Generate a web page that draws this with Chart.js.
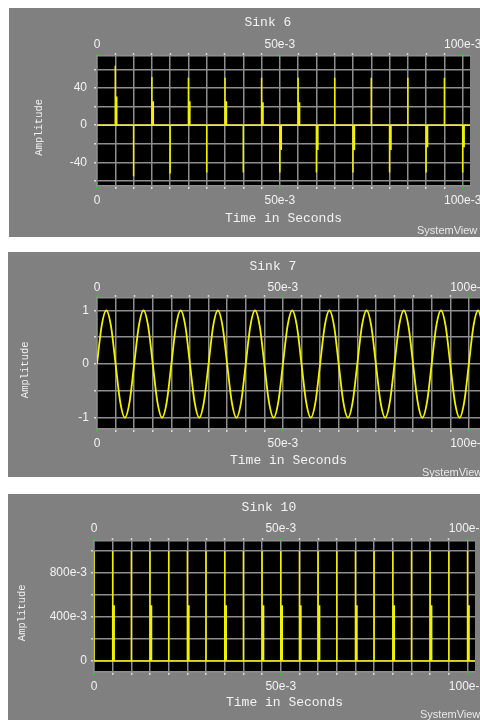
<!DOCTYPE html>
<html>
<head>
<meta charset="utf-8">
<script src="https://cdn.jsdelivr.net/npm/chart.js@4.4.0/dist/chart.umd.min.js"></script>
<style>
  html, body { margin: 0; padding: 0; background: #fff; width: 480px; height: 720px; overflow: hidden; }
  .panel { position: absolute; background: #808080; overflow: hidden; }
  .panel canvas { display: block; }
  .brand { position: absolute; font: 11px "Liberation Sans", Arial, sans-serif; color: #e8e8e8; white-space: nowrap; }
</style>
</head>
<body>
<div class="panel" style="left:9px;top:8px;width:471px;height:229px">
  <canvas id="sink6" width="471" height="229"></canvas>
  <span class="brand" style="left:408px;top:216px">SystemView</span>
</div>
<div class="panel" style="left:8px;top:252px;width:472px;height:225px">
  <canvas id="sink7" width="472" height="225"></canvas>
  <span class="brand" style="left:414px;top:214px">SystemView</span>
</div>
<div class="panel" style="left:8px;top:494px;width:472px;height:226px">
  <canvas id="sink10" width="472" height="226"></canvas>
  <span class="brand" style="left:412px;top:214px">SystemView</span>
</div>

<script>
// --- Shared time axis ---
const xGridTimes = [0, 0.005, 0.01, 0.015, 0.02, 0.025, 0.03, 0.035, 0.04, 0.045, 0.05,
                    0.055, 0.06, 0.065, 0.07, 0.075, 0.08, 0.085, 0.09, 0.095, 0.1];
const xLabelValues = [0, 0.05, 0.1];
const xLabelTexts = ['0', '50e-3', '100e-3'];

// --- Sink 6: spikes (first sample, then the following sample) ---
const sink6Times = [0.005, 0.01, 0.015, 0.02, 0.025, 0.03, 0.035, 0.04, 0.045, 0.05,
                    0.055, 0.06, 0.065, 0.07, 0.075, 0.08, 0.085, 0.09, 0.095, 0.1];
const sink6Peaks = [64, -55, 52, -52, 51, -51, 51, -51, 51, -51,
                    51, -51, 51, -51, 51, -51, 51, -51, 51, -51];
const sink6Tails = [30, 0, 25, 0, 25, 0, 25, 0, 24, -26,
                    24, -26, 0, -26, 0, -26, 0, -23, 0, -23];
const sink6YGrid = [-60, -40, -20, 0, 20, 40, 60];
const sink6YLabelValues = [-40, 0, 40];
const sink6YLabelTexts = ['-40', '0', '40'];

// --- Sink 7: sine, one value every 1.25 ms ---
const sink7Step = 0.00125;
const sink7Values = [
  0, 0.71, 1, 0.71, 0, -0.71, -1, -0.71,
  0, 0.71, 1, 0.71, 0, -0.71, -1, -0.71,
  0, 0.71, 1, 0.71, 0, -0.71, -1, -0.71,
  0, 0.71, 1, 0.71, 0, -0.71, -1, -0.71,
  0, 0.71, 1, 0.71, 0, -0.71, -1, -0.71,
  0, 0.71, 1, 0.71, 0, -0.71, -1, -0.71,
  0, 0.71, 1, 0.71, 0, -0.71, -1, -0.71,
  0, 0.71, 1, 0.71, 0, -0.71, -1, -0.71,
  0, 0.71, 1, 0.71, 0, -0.71, -1, -0.71,
  0, 0.71, 1, 0.71, 0, -0.71, -1, -0.71,
  0, 0.71, 1, 0.71
];
const sink7YGrid = [-1, -0.5, 0, 0.5, 1];
const sink7YLabelValues = [-1, 0, 1];
const sink7YLabelTexts = ['-1', '0', '1'];

// --- Sink 10: pulses ---
const sink10Times = xGridTimes;
const sink10Peaks = [1, 1, 1, 1, 1, 1, 1, 1, 1, 1, 1, 1, 1, 1, 1, 1, 1, 1, 1, 1, 1];
const sink10Tails = [0, 0.5, 0, 0.5, 0, 0.5, 0, 0.5, 0, 0.5, 0.5,
                     0.5, 0.5, 0, 0.5, 0, 0.5, 0, 0.5, 0, 0.5];
const sink10YGrid = [0, 0.2, 0.4, 0.6, 0.8, 1];
const sink10YLabelValues = [0, 0.4, 0.8];
const sink10YLabelTexts = ['0', '400e-3', '800e-3'];

const SAMPLE = 0.0004;   // spacing of the second sample of a spike
const END_TIME = 0.102;

// --- Colours / fonts ---
const GRID = '#8e8e8e';
const TICK = '#dadada';
const GREEN = '#1cd21c';
const YELLOW = '#f2f200';
const TEXT = '#f2f2f2';
const MONO = '"Liberation Mono", "DejaVu Sans Mono", monospace';
Chart.defaults.font.family = '"Liberation Sans", Arial, sans-serif';

// --- Helpers ---
function labelAt(values, texts, v) {
  const i = values.findIndex(u => Math.abs(u - v) < 1e-9);
  return i < 0 ? '' : texts[i];
}

// each spike: jump to the peak, fall back to the next sample's value, hold one sample, return to 0
function spikeTrain(times, peaks, tails) {
  const pts = [{ x: 0, y: 0 }];
  times.forEach((t, i) => {
    pts.push(
      { x: t, y: 0 }, { x: t, y: peaks[i] }, { x: t, y: tails[i] },
      { x: t + SAMPLE, y: tails[i] }, { x: t + SAMPLE, y: 0 }
    );
  });
  pts.push({ x: END_TIME, y: 0 });
  return pts;
}

const plotBackground = {
  id: 'plotBackground',
  beforeDraw(chart) {
    const { ctx, chartArea: a } = chart;
    ctx.save();
    ctx.fillStyle = '#000';
    ctx.fillRect(a.left, a.top, a.right - a.left, a.bottom - a.top);
    ctx.restore();
  }
};

function makePanel(id, p) {
  const isMajor = c => c.tick && xLabelValues.some(u => Math.abs(u - c.tick.value) < 1e-9);
  const xTickColor = c => isMajor(c) ? GREEN : TICK;
  const xBase = {
    type: 'linear', min: 0, max: p.xMax,
    afterBuildTicks: s => { s.ticks = xGridTimes.map(v => ({ value: v })); },
    ticks: {
      callback: v => labelAt(xLabelValues, xLabelTexts, v),
      autoSkip: false, maxRotation: 0, minRotation: 0, color: TEXT, font: { size: 12 }
    },
    border: { color: GRID, width: 1.5 }
  };
  new Chart(document.getElementById(id), {
    type: 'line',
    data: {
      datasets: [{
        data: p.data, xAxisID: 'x', yAxisID: 'y',
        borderColor: YELLOW, borderWidth: p.lineWidth, pointRadius: 0,
        tension: 0, cubicInterpolationMode: p.smooth ? 'monotone' : 'default'
      }]
    },
    options: {
      responsive: false, animation: false, events: [],
      layout: { padding: { top: 0, left: 0, bottom: 0, right: p.padRight } },
      plugins: { legend: { display: false }, tooltip: { enabled: false } },
      scales: {
        x: {
          ...xBase, position: 'bottom',
          afterFit: s => { s.height = p.bottomH; s.paddingLeft = 0; s.paddingRight = 0; },
          grid: { color: GRID, lineWidth: 1.5, tickLength: 3, tickColor: xTickColor, tickWidth: 1.5 },
          ticks: { ...xBase.ticks, padding: 4.8 },
          title: { display: true, text: 'Time in Seconds', color: TEXT, font: { family: MONO, size: 13 },
                   padding: { top: 0, bottom: p.xTitlePad } }
        },
        x2: {
          ...xBase, position: 'top',
          afterFit: s => { s.height = p.topH; s.paddingLeft = 0; s.paddingRight = 0; },
          grid: { drawOnChartArea: false, tickLength: 3, tickColor: xTickColor, tickWidth: 1.5 },
          ticks: { ...xBase.ticks, padding: p.topTickPad },
          title: { display: true, text: p.title, color: TEXT, font: { family: MONO, size: 13 },
                   padding: { top: p.titlePad, bottom: 0 } }
        },
        y: {
          type: 'linear', position: 'left', min: p.yMin, max: p.yMax,
          afterBuildTicks: s => { s.ticks = p.yGrid.map(v => ({ value: v })); },
          afterFit: s => { s.width = p.leftW; s.paddingTop = 0; s.paddingBottom = 0; },
          grid: { color: GRID, lineWidth: 1.5, tickLength: 3, tickColor: TICK, tickWidth: 1.5 },
          border: { color: GRID, width: 1.5 },
          ticks: {
            callback: v => labelAt(p.yLabelValues, p.yLabelTexts, v),
            autoSkip: false, color: TEXT, font: { size: 12 }, padding: p.yTickPad
          },
          title: { display: true, text: 'Amplitude  ', color: TEXT, font: { family: MONO, size: 10.5 },
                   padding: { top: p.yTitlePad, bottom: 0 } }
        }
      }
    },
    plugins: [plotBackground]
  });
}

// --- Panels ---
makePanel('sink6', {
  title: 'Sink 6    ',
  data: spikeTrain(sink6Times, sink6Peaks, sink6Tails),
  lineWidth: 1.5, smooth: false,
  xMax: 0.102, yMin: -65.5, yMax: 74.5,
  yGrid: sink6YGrid, yLabelValues: sink6YLabelValues, yLabelTexts: sink6YLabelTexts,
  leftW: 88, topH: 48, bottomH: 51, padRight: 10,
  titlePad: 7.2, topTickPad: 1.3, xTitlePad: 10.5, yTickPad: 7, yTitlePad: 23.7
});

makePanel('sink7', {
  title: 'Sink 7    ',
  data: sink7Values.map((v, i) => ({ x: i * sink7Step, y: v })),
  lineWidth: 1.8, smooth: true,
  xMax: 0.103, yMin: -1.21, yMax: 1.23,
  yGrid: sink7YGrid, yLabelValues: sink7YLabelValues, yLabelTexts: sink7YLabelTexts,
  leftW: 89, topH: 46, bottomH: 48, padRight: 0,
  titlePad: 7.2, topTickPad: 0.5, xTitlePad: 8.2, yTickPad: 5, yTitlePad: 10.7
});

makePanel('sink10', {
  title: 'Sink 10    ',
  data: spikeTrain(sink10Times, sink10Peaks, sink10Tails),
  lineWidth: 1.5, smooth: false,
  xMax: 0.102, yMin: -0.1, yMax: 1.09,
  yGrid: sink10YGrid, yLabelValues: sink10YLabelValues, yLabelTexts: sink10YLabelTexts,
  leftW: 86, topH: 47, bottomH: 48, padRight: 5,
  titlePad: 6.2, topTickPad: 1.8, xTitlePad: 9.2, yTickPad: 4, yTitlePad: 8.2
});
</script>
</body>
</html>
